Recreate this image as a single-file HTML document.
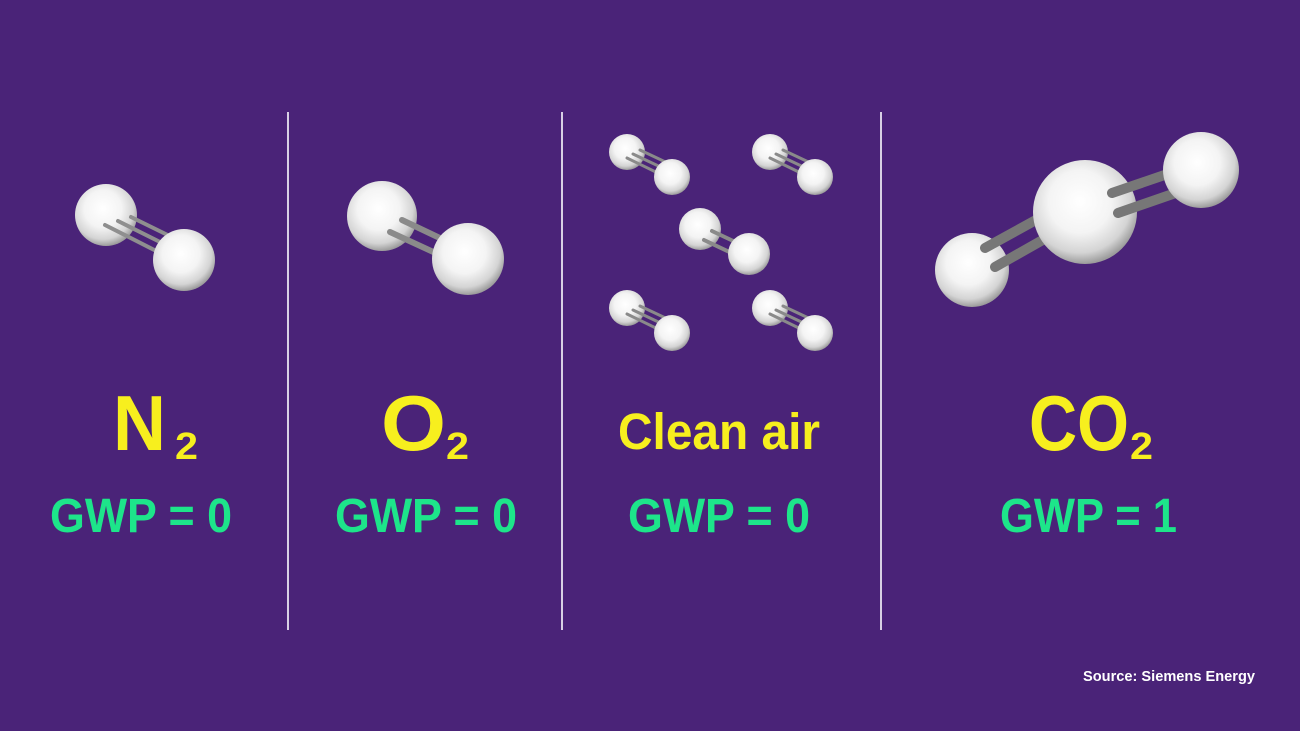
<!DOCTYPE html>
<html><head><meta charset="utf-8"><style>
html,body{margin:0;padding:0;background:#4a2378;}
svg{display:block}
text{font-family:"Liberation Sans",sans-serif;font-weight:bold}
</style></head><body>
<svg width="1300" height="731" viewBox="0 0 1300 731" xmlns="http://www.w3.org/2000/svg">
<defs>
<radialGradient id="b" cx="0.45" cy="0.4" r="0.6">
<stop offset="0" stop-color="#ffffff"/>
<stop offset="0.5" stop-color="#f4f4f4"/>
<stop offset="0.82" stop-color="#d4d4d4"/>
<stop offset="1" stop-color="#9c9c9c"/>
</radialGradient>
</defs>
<rect width="1300" height="731" fill="#4a2378"/>
<g stroke="#d8d0e4" stroke-width="2">
<line x1="288" y1="112" x2="288" y2="630"/>
<line x1="562" y1="112" x2="562" y2="630"/>
<line x1="881" y1="112" x2="881" y2="630"/>
</g>
<!-- N2 -->
<circle cx="106" cy="215" r="31" fill="url(#b)"/>
<g stroke="#8f8f8f" stroke-width="4" stroke-linecap="round">
<line x1="105" y1="225" x2="170" y2="258"/>
<line x1="118" y1="221" x2="180" y2="252"/>
<line x1="131" y1="217" x2="190" y2="246"/>
</g>
<circle cx="184" cy="260" r="31" fill="url(#b)"/>
<!-- O2 -->
<circle cx="382" cy="216" r="35" fill="url(#b)"/>
<g stroke="#8a8a8a" stroke-width="6" stroke-linecap="round">
<line x1="390" y1="232" x2="455" y2="262"/>
<line x1="402" y1="220" x2="465" y2="250"/>
</g>
<circle cx="468" cy="259" r="36" fill="url(#b)"/>
<!-- clean air -->
<g id="s">
<circle cx="627" cy="152" r="18" fill="url(#b)"/>
<g stroke="#8a8a8a" stroke-width="3" stroke-linecap="round">
<line x1="627" y1="158" x2="664" y2="176"/>
<line x1="633" y1="154" x2="669" y2="171"/>
<line x1="640" y1="150" x2="674" y2="166"/>
</g>
<circle cx="672" cy="177" r="18" fill="url(#b)"/>
</g>
<use href="#s" x="143" y="0"/>
<use href="#s" x="0" y="156"/>
<use href="#s" x="143" y="156"/>
<circle cx="700" cy="229" r="21" fill="url(#b)"/>
<g stroke="#8a8a8a" stroke-width="4" stroke-linecap="round">
<line x1="704" y1="240" x2="740" y2="257"/>
<line x1="712" y1="231" x2="746" y2="247"/>
</g>
<circle cx="749" cy="254" r="21" fill="url(#b)"/>
<!-- CO2 -->
<circle cx="972" cy="270" r="37" fill="url(#b)"/>
<g stroke="#777" stroke-width="10" stroke-linecap="round">
<line x1="985" y1="248" x2="1045" y2="215"/>
<line x1="995" y1="267" x2="1055" y2="233"/>
</g>
<circle cx="1085" cy="212" r="52" fill="url(#b)"/>
<g stroke="#777" stroke-width="10" stroke-linecap="round">
<line x1="1112" y1="193" x2="1185" y2="168"/>
<line x1="1118" y1="213" x2="1190" y2="188"/>
</g>
<circle cx="1201" cy="170" r="38" fill="url(#b)"/>
<!-- labels -->
<g fill="#f7ef1e">
<text x="113" y="450" font-size="78" textLength="53" lengthAdjust="spacingAndGlyphs">N</text>
<text x="175" y="459" font-size="38" textLength="23" lengthAdjust="spacingAndGlyphs" font-weight="normal">2</text>
<text x="381" y="450" font-size="78" textLength="65" lengthAdjust="spacingAndGlyphs">O</text>
<text x="446" y="459" font-size="38" textLength="23" lengthAdjust="spacingAndGlyphs" font-weight="normal">2</text>
<text x="618" y="449" font-size="51" textLength="202" lengthAdjust="spacingAndGlyphs">Clean air</text>
<text x="1029" y="450" font-size="78" textLength="100" lengthAdjust="spacingAndGlyphs">CO</text>
<text x="1130" y="459" font-size="38" textLength="23" lengthAdjust="spacingAndGlyphs" font-weight="normal">2</text>
</g>
<g fill="#1de58a" font-size="48">
<text x="50" y="532" textLength="182" lengthAdjust="spacingAndGlyphs">GWP = 0</text>
<text x="335" y="532" textLength="182" lengthAdjust="spacingAndGlyphs">GWP = 0</text>
<text x="628" y="532" textLength="182" lengthAdjust="spacingAndGlyphs">GWP = 0</text>
<text x="1000" y="532" textLength="177" lengthAdjust="spacingAndGlyphs">GWP = 1</text>
</g>
<text x="1083" y="681" font-size="15" fill="#ffffff" textLength="172" lengthAdjust="spacingAndGlyphs">Source: Siemens Energy</text>
</svg>
</body></html>
